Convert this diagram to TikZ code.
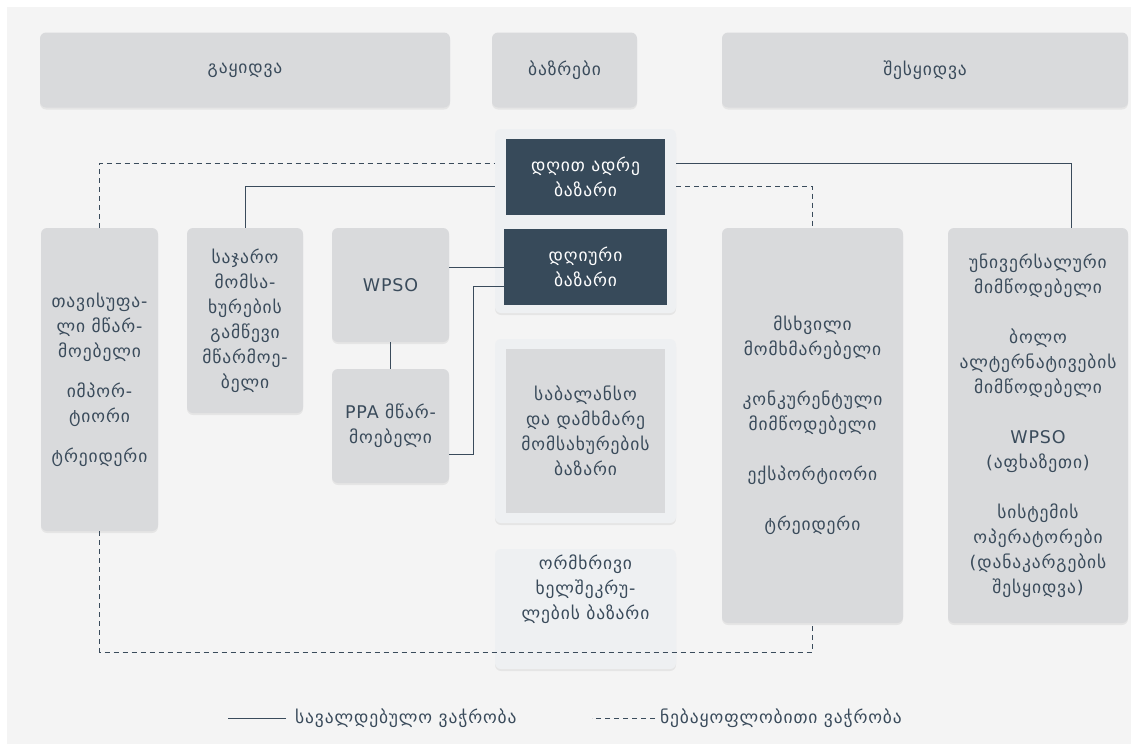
\documentclass[tikz,border=0pt]{standalone}
\usepackage{fontspec}
\setmainfont{DejaVu Sans}[LetterSpace=5]
\usepackage{tikz}
\usetikzlibrary{shadows}
\definecolor{pagegrey}{HTML}{F4F4F4}
\definecolor{boxgrey}{HTML}{D9DADC}
\definecolor{panelgrey}{HTML}{EEF0F2}
\definecolor{slate}{HTML}{3A4B5B}
\definecolor{darkslate}{HTML}{374A5A}

\begin{document}
\begin{tikzpicture}[x=1pt, y=-1pt,
    every node/.style={font=\fontsize{17.5}{25}\selectfont, text=slate, align=center, inner sep=0pt},
    actor/.style={fill=boxgrey, rounded corners=6pt,
      drop shadow={shadow xshift=0pt, shadow yshift=-2pt, opacity=0.12}},
    panel/.style={fill=panelgrey, rounded corners=6pt,
      drop shadow={shadow xshift=0pt, shadow yshift=-2pt, opacity=0.12}},
    market/.style={fill=darkslate, text=white},
    link/.style={draw=slate, line width=0.9pt},
    optlink/.style={link, dash pattern=on 5pt off 4pt}]
    \useasboundingbox (0,0) rectangle (1131,744);
    \fill[white] (0,0) rectangle (1131,744);
    \fill[pagegrey] (7,7) rectangle (1131,744);
    % --- Header row ---
    \node[actor, minimum width=410pt, minimum height=75pt] (sell) at (245,70) {გაყიდვა};
    \node[actor, minimum width=145pt, minimum height=75pt] (mkts) at (564.5,70) {ბაზრები};
    \node[actor, minimum width=406pt, minimum height=75pt] (buy) at (925,70) {შესყიდვა};
    % --- Sellers ---
    \node[actor, minimum width=117pt, minimum height=303pt] (free) at (99.5,379.5)
      {თავისუფა-\\ლი მწარ-\\მოებელი\\[15pt]იმპორ-\\ტიორი\\[15pt]ტრეიდერი};
    \node[actor, minimum width=116pt, minimum height=185pt] (psp) at (245,320.5)
      {საჯარო\\მომსა-\\ხურების\\გამწევი\\მწარმოე-\\ბელი};
    \node[actor, minimum width=117pt, minimum height=114pt] (wpso) at (390.5,285) {WPSO};
    \node[actor, minimum width=117pt, minimum height=114pt] (ppa) at (390.5,426)
      {PPA მწარ-\\მოებელი};
    % --- Markets ---
    \node[panel, minimum width=181pt, minimum height=184pt] (mkt) at (585.5,221) {};
    \node[market, minimum width=159pt, minimum height=76pt] (dam) at (585.5,177)
      {დღით ადრე\\ბაზარი};
    \node[market, minimum width=163pt, minimum height=76pt] (day) at (585.5,267)
      {დღიური\\ბაზარი};
    \node[panel, minimum width=181pt, minimum height=184pt] (balp) at (585.5,431) {};
    \node[fill=boxgrey, minimum width=159pt, minimum height=164pt] (bal) at (585.5,431)
      {საბალანსო\\და დამხმარე\\მომსახურების\\ბაზარი};
    \node[panel, minimum width=181pt, minimum height=120pt] (bil) at (585.5,609)
      {ორმხრივი\\ხელშეკრუ-\\ლების ბაზარი\\[18pt]};
    % --- Buyers ---
    \node[actor, minimum width=181pt, minimum height=395pt] (large) at (812.5,425.5)
      {მსხვილი\\მომხმარებელი\\[25pt]კონკურენტული\\მიმწოდებელი\\[25pt]ექსპორტიორი\\[25pt]ტრეიდერი};
    \node[actor, minimum width=180pt, minimum height=395pt] (univ) at (1038,425.5)
      {უნივერსალური\\მიმწოდებელი\\[25pt]ბოლო\\ალტერნატივების\\მიმწოდებელი\\[25pt]WPSO\\(აფხაზეთი)\\[25pt]სისტემის\\ოპერატორები\\(დანაკარგების\\შესყიდვა)};
    % --- Trading links ---
    \coordinate (volL) at (495,163);
    \coordinate (obL)  at (495,186);
    \coordinate (obR)  at (676,163);
    \coordinate (volR) at (676,186);
    \draw[optlink] (free.north) |- (volL);
    \draw[link] (psp.north) |- (obL);
    \draw[link] (wpso.east |- day.west) -- (day.west);
    \draw[link] ([yshift=-28pt]ppa.east) -- ++(24,0) |- ([yshift=-19pt]day.west);
    \draw[link] (wpso.south) -- (ppa.north);
    \draw[link] (obR) -| ([xshift=33pt]univ.north);
    \draw[optlink] (volR) -| (large.north);
    \draw[optlink] (free.south) -- ++(0,121) -| (large.south);
    % --- Legend ---
    \node[anchor=west] (lgob) at (295,718) {სავალდებულო ვაჭრობა};
    \node[anchor=west] (lgvol) at (660,718) {ნებაყოფლობითი ვაჭრობა};
    \draw[link] ([xshift=-9pt]lgob.west) -- ++(-58,0);
    \draw[optlink] ([xshift=-5pt]lgvol.west) -- ++(-63,0);
\end{tikzpicture}
\end{document}
